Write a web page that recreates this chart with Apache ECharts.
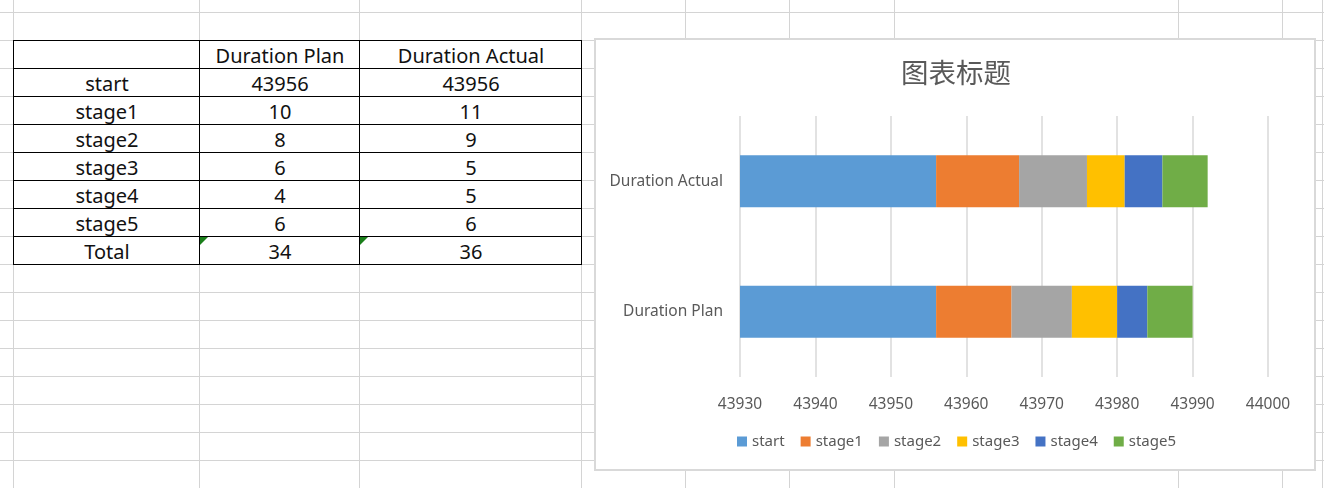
<!DOCTYPE html>
<html>
<head>
<meta charset="utf-8">
<script src="https://cdn.jsdelivr.net/npm/echarts@6/dist/echarts.min.js"></script>
<style>
  html, body { margin:0; padding:0; width:1324px; height:488px; overflow:hidden; background:#fff; }
  #sheet { position:absolute; left:0; top:0; width:1324px; height:488px; z-index:0; }
  .gl { position:absolute; background:#d4d4d4; }
  .cell { position:absolute; box-sizing:border-box; text-align:center; font-family:"Noto Sans", sans-serif; font-size:20px; color:#111; line-height:28px; padding-top:2px; padding-left:2px; white-space:nowrap; }
  .tb { position:absolute; background:#000; z-index:2; }
  .tri { position:absolute; width:0; height:0; border-top:8px solid #1a7f1a; border-right:8px solid transparent; z-index:3; }
  #chartbox { position:absolute; left:594px; top:38px; width:722px; height:433px; box-sizing:border-box; border:2px solid #d9d9d9; background:#fff; z-index:4; }
  #chart { position:absolute; left:0; top:0; width:1324px; height:488px; z-index:5; }
</style>
</head>
<body>
<div id="sheet"></div>
<div id="chartbox"></div>
<div id="chart"></div>
<script>
// ---- data ----
const rowLabels = ['start', 'stage1', 'stage2', 'stage3', 'stage4', 'stage5'];
const columnHeaders = ['Duration Plan', 'Duration Actual'];
const planValues = [43956, 10, 8, 6, 4, 6];
const actualValues = [43956, 11, 9, 5, 5, 6];
const totalLabel = 'Total';
const totalValues = [34, 36];
const chartTitle = '图表标题';
const axisMin = 43930;
const axisMax = 44000;
const axisInterval = 10;

// ---- spreadsheet background ----
const sheet = document.getElementById('sheet');
const vLines = [13, 199, 359, 581, 685, 789, 894, 1178, 1282, 1322];
const hStart = 12, rowH = 28;
for (let y = hStart; y < 488; y += rowH) {
  const d = document.createElement('div'); d.className = 'gl';
  d.style.cssText = `left:0;top:${y}px;width:1324px;height:1px;`;
  sheet.appendChild(d);
}
vLines.forEach(x => {
  const d = document.createElement('div'); d.className = 'gl';
  d.style.cssText = `left:${x}px;top:0;width:1px;height:488px;`;
  sheet.appendChild(d);
});

// ---- table ----
const colX = [13, 199, 359, 581];
const tableTop = 40;
const rows = [['', ...columnHeaders]];
rowLabels.forEach((r, i) => rows.push([r, String(planValues[i]), String(actualValues[i])]));
rows.push([totalLabel, String(totalValues[0]), String(totalValues[1])]);
rows.forEach((row, ri) => {
  row.forEach((txt, ci) => {
    const c = document.createElement('div'); c.className = 'cell';
    c.style.left = colX[ci] + 'px';
    c.style.top = (tableTop + ri * rowH) + 'px';
    c.style.width = (colX[ci + 1] - colX[ci]) + 'px';
    c.style.height = rowH + 'px';
    c.style.background = '#fff';
    c.style.zIndex = 1;
    c.textContent = txt;
    document.body.appendChild(c);
  });
});
for (let ri = 0; ri <= rows.length; ri++) {
  const d = document.createElement('div'); d.className = 'tb';
  d.style.cssText = `left:${colX[0]}px;top:${tableTop + ri * rowH}px;width:${colX[3] - colX[0] + 1}px;height:1px;`;
  document.body.appendChild(d);
}
colX.forEach(x => {
  const d = document.createElement('div'); d.className = 'tb';
  d.style.cssText = `left:${x}px;top:${tableTop}px;width:1px;height:${rows.length * rowH + 1}px;`;
  document.body.appendChild(d);
});
[colX[1], colX[2]].forEach(x => {
  const t = document.createElement('div'); t.className = 'tri';
  t.style.left = (x + 1) + 'px';
  t.style.top = (tableTop + (rows.length - 1) * rowH + 1) + 'px';
  document.body.appendChild(t);
});

// ---- chart ----
const chart = echarts.init(document.getElementById('chart'), null, { renderer: 'canvas' });
const colors = ['#5B9BD5', '#ED7D31', '#A5A5A5', '#FFC000', '#4472C4', '#70AD47'];
const yCats = columnHeaders.slice();
const series = rowLabels.map((name, i) => ({
  name: name,
  type: 'bar',
  stack: 'total',
  barWidth: 52,
  clip: true,
  data: [planValues[i], actualValues[i]],
  itemStyle: { color: colors[i] },
  emphasis: { disabled: true }
}));
chart.setOption({
  backgroundColor: 'transparent',
  animation: false,
  title: {
    text: chartTitle,
    left: 951,
    top: 54,
    textAlign: 'center',
    textStyle: { fontFamily: '"Noto Sans CJK SC", sans-serif', fontSize: 27.5, fontWeight: 'normal', color: '#595959' }
  },
  legend: {
    data: rowLabels,
    left: 732,
    top: 429,
    itemWidth: 10,
    itemHeight: 10,
    itemGap: 16,
    icon: 'rect',
    textStyle: { fontFamily: '"Noto Sans", sans-serif', fontSize: 15, color: '#595959' }
  },
  grid: { left: 740, right: 1324 - 1268, top: 116, bottom: 488 - 377, containLabel: false },
  xAxis: {
    type: 'value',
    min: axisMin,
    max: axisMax,
    interval: axisInterval,
    axisLine: { show: false },
    axisTick: { show: false },
    axisLabel: { margin: 20, fontFamily: '"Noto Sans", sans-serif', fontSize: 15.5, color: '#595959', formatter: v => String(v) },
    splitLine: { show: true, lineStyle: { color: '#d9d9d9', width: 1.5 } }
  },
  yAxis: {
    type: 'category',
    data: yCats,
    axisLine: { show: false },
    axisTick: { show: false },
    axisLabel: { margin: 17, fontFamily: '"Noto Sans", sans-serif', fontSize: 15.5, color: '#595959' },
    splitLine: { show: false }
  },
  series: series
});
</script>
</body>
</html>
